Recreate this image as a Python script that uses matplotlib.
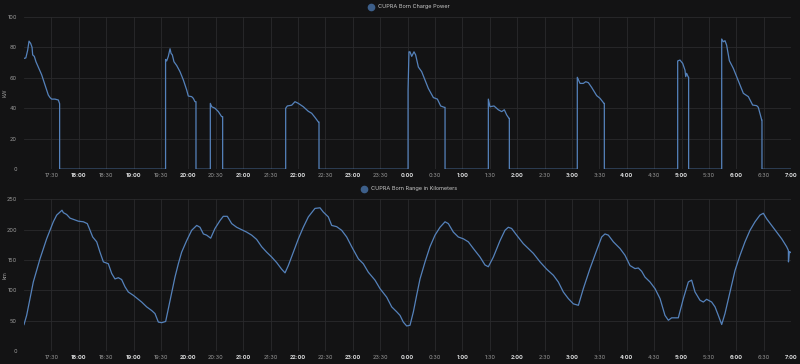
import numpy as np
import matplotlib.pyplot as plt
from matplotlib.lines import Line2D

# minutes after 17:00
power_min = [0, 2, 4, 5.5, 7.3, 8.8, 9.5, 11.3, 13.1, 15.7, 19.3, 21.2, 23, 24.8, 26.6, 28.5, 30.3, 33.9, 37.6, 39, 39,
             155, 155, 156.2, 158, 159.9, 161, 162.4, 164.2, 167.2, 170.8, 174.5, 178.1, 179.9, 183.6, 185.4, 187.2, 188.3, 188.3,
             204, 204, 205.5, 209.1, 212.8, 216.4, 217.5, 217.5,
             286.5, 286.5, 288.3, 293.1, 296.7, 300.4, 305.8, 311.3, 315, 318.6, 322.3, 323, 323,
             420.5, 420.5, 421.5, 422.6, 424.5, 427, 428.8, 431.8, 435.4, 439.1, 442.7, 448.2, 452.6, 456.2, 460.2, 461, 461,
             508.4, 508.4, 510.2, 514.6, 519.3, 523, 525.9, 528.5, 531, 531.4, 531.4,
             605.8, 605.8, 608.8, 612.4, 615, 617.9, 621.5, 627, 630.7, 635, 635.4, 635.4,
             715.7, 715.7, 718.2, 721.2, 723.7, 724.5, 725.5, 727.4, 727.7, 727.7,
             763.9, 763.9, 765.7, 767.5, 769.3, 772.3, 776.6, 780.3, 784, 787.6, 793.1, 797.8, 802.2, 804, 807.7, 808, 808, 840]
power_kw = [72.7, 73, 78, 84, 82.5, 80, 75, 74, 70.5, 67, 62, 58.5, 55, 52, 48.7, 47, 46, 46, 45.4, 43, 0,
            0, 72, 71, 74, 79, 76, 75, 70.5, 68, 64, 58.5, 52, 48, 47.6, 46.5, 44.3, 44.3, 0,
            0, 43.2, 41, 40, 37.8, 34.5, 34.5, 0,
            0, 40, 41.5, 42, 44.3, 43.2, 41, 38, 36.7, 34, 31, 31, 0,
            0, 52, 77, 77, 74, 77, 75, 67, 64, 58.5, 53, 47, 46, 41.5, 40.6, 40.6, 0,
            0, 46, 41, 41.5, 39, 37.8, 39, 35.6, 33.4, 33.4, 0,
            0, 60.3, 56.3, 56.3, 57.4, 56.8, 53.7, 48.3, 46.5, 43.2, 43.2, 0,
            0, 71, 71.6, 69.4, 65, 60.7, 62.9, 60.3, 60.3, 0,
            0, 85.4, 83.6, 84.3, 81.4, 71.2, 66.2, 60.7, 55.2, 49.8, 47.6, 42.1, 41.7, 40.6, 32.3, 32.3, 0, 0]

range_min = [0, 2.9, 6.6, 10.2, 13.9, 17.5, 21.2, 24.8, 28.5, 32.1, 35.8, 39.4, 41.6, 43.1, 46.7, 50.4, 54, 59.5, 65, 69.3,
             71.5, 75.2, 79.6, 83.2, 86.9, 92.3, 96, 99.6, 103.3, 106.9, 110.6, 114.2, 119.7, 124.1, 128.8, 134.3, 139.8,
             143.4, 147.1, 150.7, 155.1, 158, 161.7, 165.3, 169, 172.6, 178.1, 183.6, 189.1, 192.7, 196.4, 200, 204.4,
             209.1, 214.6, 218.2, 222.6, 227.4, 232.8, 238.3, 243.8, 249.3, 254.7, 260.2, 265.7, 271.2, 276.6, 282.1,
             285.8, 289.4, 294.9, 300.4, 305.8, 311.3, 318.6, 324.1, 327.7, 333.2, 336.9, 342.3, 347.8, 353.3, 358.8,
             366.1, 371.5, 377, 384.3, 389.8, 397.1, 402.6, 408, 411.7, 415.3, 419, 422.6, 426.3, 429.9, 433.6, 439.1,
             444.5, 450, 455.5, 461, 464.6, 470.1, 475.5, 481, 486.5, 492, 499.3, 504.7, 508.4, 513.9, 521.2, 526.6,
             530.3, 533.9, 539.4, 546.7, 552.2, 557.7, 565, 572.3, 579.6, 585, 590.5, 596, 601.5, 607, 612.4, 619.7,
             627, 632.5, 636.1, 639.8, 645.3, 652.6, 658, 663.5, 669, 672.6, 676.3, 679.9, 685.4, 690.9, 696.4, 701.8,
             705.5, 709.1, 716.4, 721.9, 727.4, 731, 734.7, 740.1, 743.8, 747.4, 752.9, 756.6, 760.2, 763.9, 767.5,
             773, 778.5, 784, 789.4, 794.9, 800.4, 805.8, 809.5, 813.1, 818.6, 824.1, 829.6, 835, 836.9, 837, 838, 840]
range_km = [43.9, 59, 86.6, 114, 133, 152, 169, 185, 199, 213, 224, 229, 232, 228, 225, 219, 217, 214, 213, 210,
            202, 188, 180, 163, 147, 144, 128, 119, 121, 118, 106, 97.5, 92, 86.6, 81, 73, 67,
            62, 48, 47, 49, 70, 97.5, 122, 144, 163, 182, 199, 207, 204, 193, 191, 186,
            202, 215, 222, 222, 210, 204, 200, 196, 191, 184, 172, 163, 155, 146, 135,
            129, 141, 163, 185, 204, 221, 235, 236, 229, 221, 207, 205, 199, 188, 172,
            152, 144, 130, 117, 103, 89, 73, 65, 59, 48, 41.6, 42.7, 64.7, 92, 119, 147,
            172, 191, 204, 213, 210, 196, 188, 185, 180, 169, 155, 142, 139, 155, 182, 199,
            204, 202, 191, 177, 169, 161, 147, 135, 125, 114, 97.5, 86.6, 78, 75.6, 103, 136,
            166, 188, 193, 191, 180, 169, 158, 141, 136, 137, 131.5, 122, 114, 103, 86.6, 59,
            51, 55, 55, 86.6, 114, 117, 97.5, 84, 81, 85.5, 81, 73, 59, 44, 62,
            97.5, 133, 158, 180, 199, 213, 224, 227, 218, 207, 196, 185, 172, 166, 147, 164, 162]

tick_labels = ['17:30', '18:00', '18:30', '19:00', '19:30', '20:00', '20:30', '21:00', '21:30', '22:00',
               '22:30', '23:00', '23:30', '0:00', '0:30', '1:00', '1:30', '2:00', '2:30', '3:00',
               '3:30', '4:00', '4:30', '5:00', '5:30', '6:00', '6:30', '7:00']
tick_pos = np.arange(1, len(tick_labels) + 1) * 30

bg = '#131314'
line_col = '#5582bb'
grid_col = '#2a2a2c'
txt = '#c7c7c7'

plt.rcParams['font.family'] = ['Inter', 'DejaVu Sans']

fig = plt.figure(figsize=(8, 3.64), dpi=100, facecolor=bg)
ax1 = fig.add_axes([0.03, 0.535, 0.959, 0.419])
ax2 = fig.add_axes([0.03, 0.035, 0.959, 0.4175])


def style(ax, ymax, ystep, ylab, title, ylab_y, leg_y):
    ax.set_facecolor(bg)
    ax.set_xlim(0, 840)
    ax.set_ylim(0, ymax)
    ax.set_yticks(np.arange(0, ymax + 1, ystep))
    ax.set_xticks(tick_pos)
    ax.set_xticklabels(tick_labels)
    for lab in ax.get_xticklabels():
        if lab.get_text().endswith(':00'):
            lab.set_fontweight('bold')
            lab.set_color('#d8d9da')
        else:
            lab.set_color('#9a9a9a')
    ax.tick_params(axis='both', length=0, labelsize=4, pad=3)
    ax.tick_params(axis='y', colors='#9a9a9a', pad=5)
    ax.grid(True, color=grid_col, linewidth=0.6)
    ax.set_axisbelow(True)
    for s in ax.spines.values():
        s.set_visible(False)
    fig.text(0.006, ylab_y, ylab, color='#9a9a9a', fontsize=4, rotation=90, ha='center', va='center')
    h = Line2D([], [], color=line_col, marker='o', linestyle='none', markersize=4.5,
               markerfacecolor='#3d5f8a', markeredgecolor='#3d5f8a')
    leg = ax.legend([h], [title], loc='center', bbox_to_anchor=(0.5, leg_y), frameon=False,
                    fontsize=4, handletextpad=0.2, borderaxespad=0, borderpad=0)
    for t in leg.get_texts():
        t.set_color(txt)


ax1.plot(power_min, power_kw, color=line_col, linewidth=0.9)
style(ax1, 100, 20, 'kW', 'CUPRA Born Charge Power', 1 - 93 / 364, 1.064)

ax2.plot(range_min, range_km, color=line_col, linewidth=0.9)
style(ax2, 250, 50, 'km', 'CUPRA Born Range in Kilometers', 1 - 275 / 364, 1.068)

fig.savefig('out.png', dpi=100, facecolor=bg)
